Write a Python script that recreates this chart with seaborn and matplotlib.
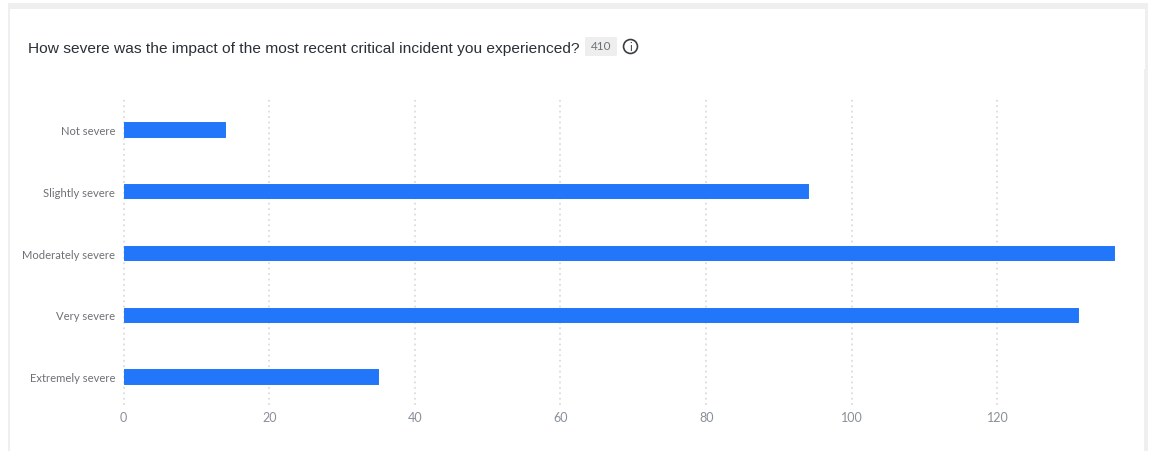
import matplotlib
matplotlib.use("Agg")
import matplotlib.pyplot as plt
from matplotlib.patches import Rectangle, FancyBboxPatch, Circle
import pandas as pd
import seaborn as sns

categories = ["Not severe", "Slightly severe", "Moderately severe", "Very severe", "Extremely severe"]
counts = [14, 94, 136, 131, 35]
x_ticks = [0, 20, 40, 60, 80, 100, 120]
title = "How severe was the impact of the most recent critical incident you experienced?"
total_label = "410"

W, H = 1149, 452
sns.set_theme(style="white")
plt.rcParams["font.family"] = ["Lato", "DejaVu Sans"]
fig = plt.figure(figsize=(W / 100, H / 100), dpi=100, facecolor="white")


def fx(px):
    return px / W


def fy(py):
    return 1 - py / H


# card frame
for (x0, y0, x1, y1) in [(8, 4, 1148, 10), (8, 4, 10, 452), (1145, 10, 1148, 70), (1144, 70, 1148, 452)]:
    fig.add_artist(Rectangle((fx(x0), fy(y1)), (x1 - x0) / W, (y1 - y0) / H,
                             transform=fig.transFigure, fc="#efefef", ec="none"))

ax = fig.add_axes([fx(123.5), fy(406), (1114 - 123.5) / W, (406 - 98) / H])
df = pd.DataFrame({"category": categories, "count": counts})
sns.barplot(data=df, y="category", x="count", order=categories, color="#2176fa",
            saturation=1, width=0.235, ax=ax, zorder=3)
for bar in ax.patches:
    bar.set_edgecolor("#2176fa")
    bar.set_linewidth(0.7)
    bar.set_joinstyle("round")
    bar.set_clip_on(False)
ax.set_xlim(0, 136)
ax.set_ylim(4.46, -0.525)
ax.set_xticks(x_ticks)
ax.set_xlabel("")
ax.set_ylabel("")
ax.patch.set_alpha(0)
for s in ax.spines.values():
    s.set_visible(False)
ax.grid(True, axis="x", color="#dcdcdc", linestyle=(0, (1, 2)), linewidth=1.3, zorder=0)
ax.grid(False, axis="y")
for ln in ax.get_xgridlines():
    ln.set_clip_on(False)
ax.tick_params(axis="x", length=0, pad=4.2, labelsize=9, labelcolor="#8a8f98")
ax.tick_params(axis="y", length=0, pad=6, labelsize=8.1, labelcolor="#6e7075")

fig.text(fx(28.5), fy(48.5), title, fontsize=11.15, color="#2b2f38", va="center", ha="left",
         family=["Liberation Sans", "DejaVu Sans"])
fig.add_artist(FancyBboxPatch((fx(585), fy(57)), 32 / W, 19 / H, boxstyle="round,pad=0,rounding_size=0.002",
                              transform=fig.transFigure, fc="#eeeeee", ec="none"))
fig.text(fx(601), fy(47), total_label, fontsize=8.5, color="#6e7075", va="center", ha="center")
# info icon
icon = fig.add_axes([fx(622), fy(56), 17 / W, 17 / H])
icon.set_xlim(-1, 1)
icon.set_ylim(-1, 1)
icon.axis("off")
icon.add_patch(Circle((0, 0), 0.82, fc="none", ec="#3a3d44", lw=1.2))
icon.text(0, -0.03, "i", ha="center", va="center", fontsize=8, color="#3a3d44")

fig.savefig("out.png", dpi=100)
